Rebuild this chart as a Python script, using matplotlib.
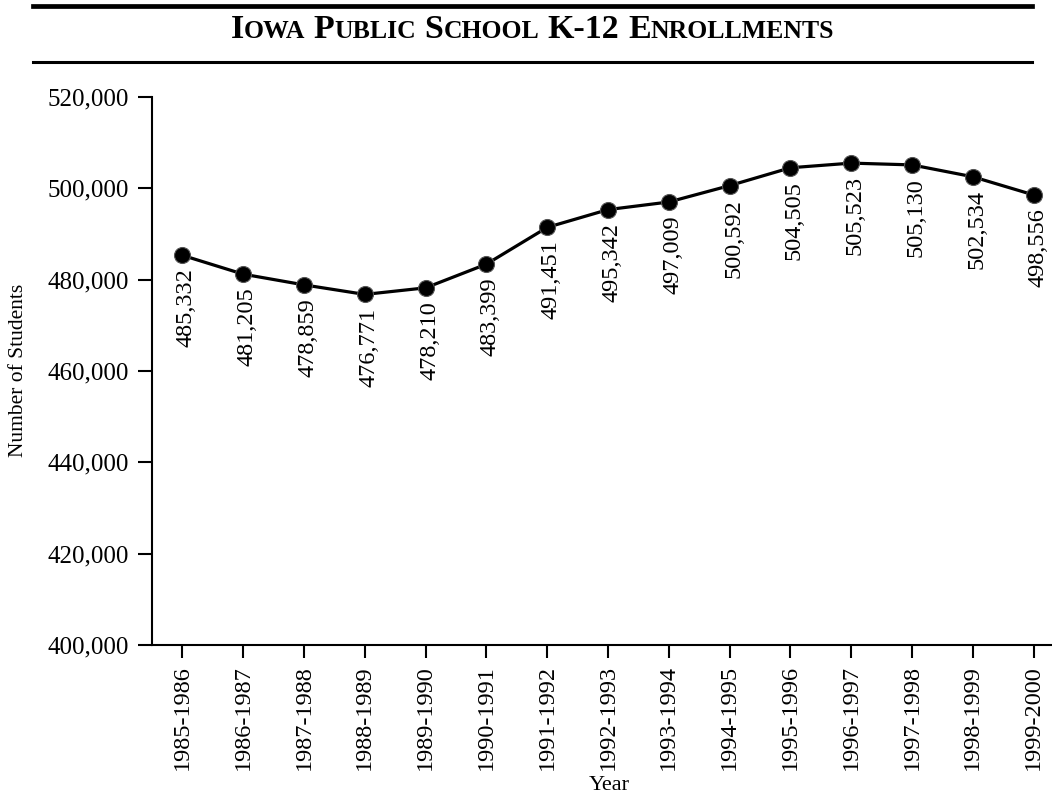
import numpy as np
import matplotlib
matplotlib.use("Agg")
import matplotlib.pyplot as plt
from matplotlib.lines import Line2D

plt.rcParams['font.family'] = ['Liberation Serif', 'DejaVu Serif']

years = ["1985-1986", "1986-1987", "1987-1988", "1988-1989", "1989-1990",
         "1990-1991", "1991-1992", "1992-1993", "1993-1994", "1994-1995",
         "1995-1996", "1996-1997", "1997-1998", "1998-1999", "1999-2000"]
enrollment = [485332, 481205, 478859, 476771, 478210,
              483399, 491451, 495342, 497009, 500592,
              504505, 505523, 505130, 502534, 498556]
y_ticks = [400000, 420000, 440000, 460000, 480000, 500000, 520000]
title_words = ["Iowa", "Public", "School", "K-12", "Enrollments"]

W, H = 1052, 796
fig = plt.figure(figsize=(W / 100, H / 100), dpi=100)


def fx(px):
    return px / W


def fy(py):
    return 1 - py / H


# axes run a half band past the right edge, like the original
ax = fig.add_axes([fx(152), fy(645), fx(1064) - fx(152), fy(97) - fy(645)])
ax.patch.set_alpha(0)

x = np.arange(len(years))
ax.plot(x, enrollment, '-', color='black', lw=2.3, zorder=2)
ax.plot(x, enrollment, 'o', ms=11.5, mfc='black', mec='#555555', mew=0.8, zorder=3)

for xi, v in zip(x, enrollment):
    ax.annotate(f"{v:,}", (xi, v), xytext=(4, -13), textcoords='offset pixels',
                rotation=90, ha='center', va='top', fontsize=17.5)

ax.set_xlim(-0.5, len(years) - 0.5)
ax.set_ylim(400000, 520000)
ax.set_xticks(x)
ax.set_xticklabels(years, rotation=90, fontsize=17.5)
ax.set_yticks(y_ticks)
ax.set_yticklabels([f"{v:,}" for v in y_ticks], fontsize=18)
ax.tick_params(axis='y', length=10, width=1.5, pad=7)
ax.tick_params(axis='x', length=9.5, width=1.5, pad=5)
for side in ['top', 'right']:
    ax.spines[side].set_visible(False)
for side in ['left', 'bottom']:
    ax.spines[side].set_linewidth(1.5)

fig.text(fx(19), fy(370), "Number of Students", rotation=90,
         ha='center', va='center', fontsize=15.5)
fig.text(fx(609), fy(786), "Year", ha='center', va='center', fontsize=16)

# title rules
fig.add_artist(Line2D([fx(33), fx(1032)], [fy(6), fy(6)], color='black', lw=3.4))
fig.add_artist(Line2D([fx(33), fx(1032)], [fy(61.5), fy(61.5)], color='black', lw=2.2))

# small-caps title, built piece by piece
big, small = 24.5, 18.5
pieces = []
for w in title_words:
    if w[0].isalpha() and w[1:].isalpha():
        pieces.append((w[0], big))
        pieces.append((w[1:].upper(), small))
    else:
        pieces.append((w, big))
    pieces.append((" ", big))
pieces = pieces[:-1]

renderer = fig.canvas.get_renderer()
texts = []
widths = []
for s, size in pieces:
    if s == " ":
        txt = fig.text(0, fy(33), "I I", fontsize=size, fontweight='bold', alpha=0)
        w1 = txt.get_window_extent(renderer).width
        txt.set_text("II")
        w2 = txt.get_window_extent(renderer).width
        txt.remove()
        widths.append(w1 - w2)
        texts.append(None)
        continue
    txt = fig.text(0, fy(38), s, fontsize=size, fontweight='bold',
                   ha='left', va='baseline')
    texts.append(txt)
    widths.append(txt.get_window_extent(renderer).width)

total = sum(widths)
cur = 532.5 - total / 2
for txt, w in zip(texts, widths):
    if txt is not None:
        txt.set_x(fx(cur))
    cur += w

fig.savefig("out.png", dpi=100)
